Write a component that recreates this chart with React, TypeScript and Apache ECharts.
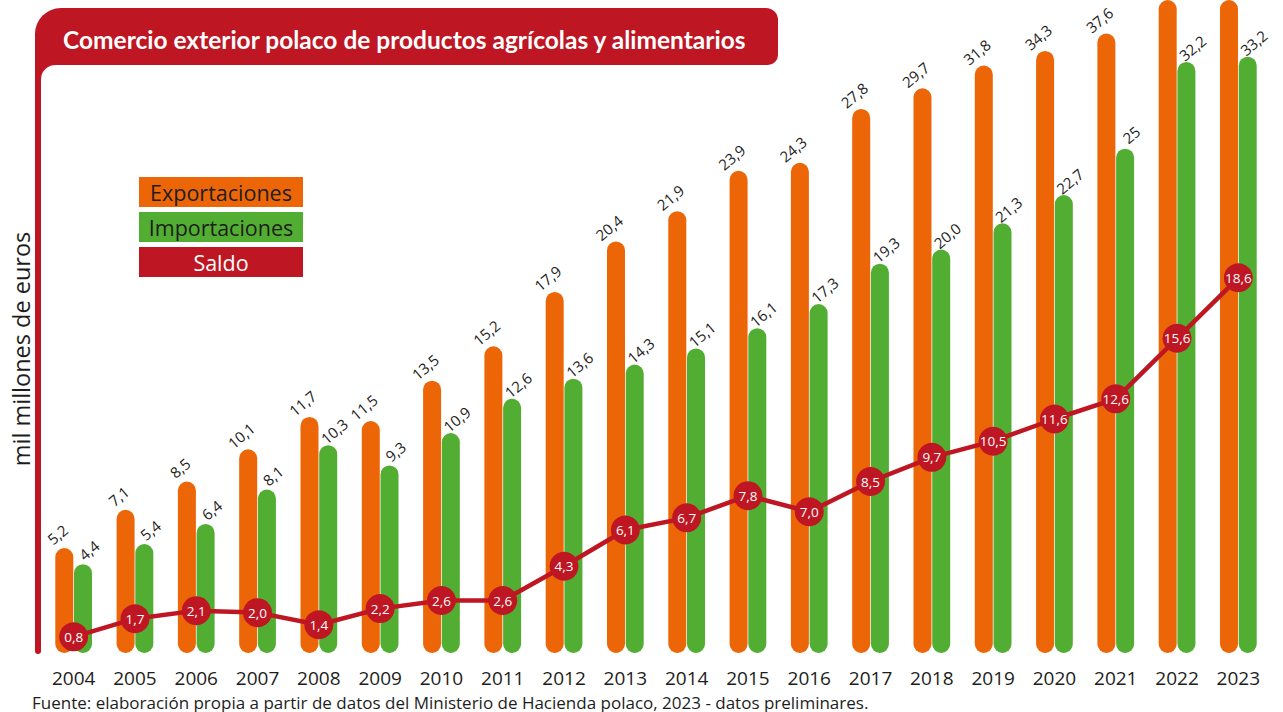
import React, { useEffect, useRef } from "react";
import * as echarts from "echarts";

const years = ["2004","2005","2006","2007","2008","2009","2010","2011","2012","2013","2014","2015","2016","2017","2018","2019","2020","2021","2022","2023"];
const exportsData = [5.2, 7.1, 8.5, 10.1, 11.7, 11.5, 13.5, 15.2, 17.9, 20.4, 21.9, 23.9, 24.3, 27.8, 29.7, 31.8, 34.3, 37.6, 47.8, 51.8];
const importsData = [4.4, 5.4, 6.4, 8.1, 10.3, 9.3, 10.9, 12.6, 13.6, 14.3, 15.1, 16.1, 17.3, 19.3, 20.0, 21.3, 22.7, 25, 32.2, 33.2];
const saldoData = [0.8, 1.7, 2.1, 2.0, 1.4, 2.2, 2.6, 2.6, 4.3, 6.1, 6.7, 7.8, 7.0, 8.5, 9.7, 10.5, 11.6, 12.6, 15.6, 18.6];
const hiddenExportLabels = ["2022", "2023"];

const TITLE = "Comercio exterior polaco de productos agrícolas y alimentarios";
const Y_NAME = "mil millones de euros";
const SOURCE = "Fuente: elaboración propia a partir de datos del Ministerio de Hacienda polaco, 2023 - datos preliminares.";
const LEGEND = ["Exportaciones", "Importaciones", "Saldo"];

const ORANGE = "#EC6608";
const GREEN = "#52AE32";
const RED = "#BE1622";
const DARK = "#1d1d1b";
const FONT = "'Open Sans', sans-serif";

const fmt = (v: number) => Number(v).toFixed(1).replace(".", ",");

export default function App() {
  const ref = useRef<HTMLDivElement>(null);
  useEffect(() => {
    if (!ref.current) return;
    const chart = echarts.init(ref.current, null, { renderer: "svg" });
    const barLabel = {
      show: true,
      position: "top",
      distance: 0,
      rotate: 40,
      align: "center",
      verticalAlign: "middle",
      fontSize: 15,
      fontFamily: FONT,
      color: DARK,
      formatter: (p: any) => fmt(p.value),
    };
    const legendColors = [ORANGE, GREEN, RED];
    const legendTextColors = [DARK, DARK, "#ffffff"];
    const graphic: any[] = [
      { type: "rect", shape: { x: 35, y: 8, width: 743, height: 57, r: [26, 12, 10, 0] }, style: { fill: RED }, silent: true },
      { type: "rect", shape: { x: 35, y: 40, width: 6, height: 614, r: 3 }, style: { fill: RED }, silent: true },
      { type: "rect", shape: { x: 40, y: 64, width: 16, height: 16 }, style: { fill: RED }, silent: true },
      { type: "circle", shape: { cx: 55, cy: 79, r: 14 }, style: { fill: "#ffffff" }, silent: true },
      { type: "text", x: 63, y: 39, style: { text: TITLE, fill: "#ffffff", font: `bold 24.5px Lato, sans-serif`, verticalAlign: "middle" }, silent: true },
      { type: "text", x: 21, y: 349, rotation: Math.PI / 2, style: { text: Y_NAME, fill: DARK, font: `23.5px ${FONT}`, align: "center", verticalAlign: "middle" }, silent: true },
      { type: "text", x: 32, y: 702, style: { text: SOURCE, fill: DARK, font: `17px ${FONT}`, lineHeight: 17, verticalAlign: "middle" }, silent: true },
    ];
    LEGEND.forEach((name, i) => {
      const y = 177 + i * 35;
      graphic.push({ type: "rect", shape: { x: 139, y, width: 164, height: 30 }, style: { fill: legendColors[i] }, silent: true });
      graphic.push({ type: "text", x: 221, y: y + 15, style: { text: name, fill: legendTextColors[i], font: `21.5px ${FONT}`, align: "center", verticalAlign: "middle" }, silent: true });
    });

    chart.setOption({
      animation: false,
      grid: { left: 43, right: 14, top: 0, bottom: 59, containLabel: false },
      xAxis: {
        type: "category",
        data: years,
        axisLine: { show: false },
        axisTick: { show: false },
        axisLabel: { fontSize: 19, lineHeight: 19, color: DARK, fontFamily: FONT, margin: 15, interval: 0 },
      },
      yAxis: {
        type: "value",
        min: 0,
        max: 44,
        show: false,
        splitLine: { show: false },
        breaks: [
          { start: 26, end: 31.8, gap: 3.12 },
          { start: 31.9, end: 44, gap: 3.15 },
        ],
        breakArea: { show: false, itemStyle: { opacity: 0, borderWidth: 0 }, zigzagAmplitude: 0 },
      },
      graphic,
      series: [
        {
          type: "bar",
          name: LEGEND[0],
          barWidth: 18,
          data: exportsData.map((v, i) =>
            hiddenExportLabels.includes(years[i]) ? { value: v, label: { show: false } } : v
          ),
          itemStyle: { color: ORANGE, borderRadius: 9 },
          label: { ...barLabel, offset: [3.5, -15] },
          z: 2,
        },
        {
          type: "bar",
          name: LEGEND[1],
          barWidth: 18,
          barGap: "4%",
          data: importsData.map((v) => (v === 25 ? { value: v, label: { formatter: "25" } } : v)),
          itemStyle: { color: GREEN, borderRadius: 9 },
          label: { ...barLabel, offset: [13.6, -6.9] },
          z: 2,
        },
        {
          type: "line",
          name: LEGEND[2],
          data: saldoData,
          symbol: "circle",
          symbolSize: 29,
          lineStyle: { color: RED, width: 4.5 },
          itemStyle: { color: RED },
          label: {
            show: true,
            position: "inside",
            color: "#ffffff",
            fontSize: 13.5,
            fontFamily: FONT,
            fontWeight: 500,
            formatter: (p: any) => fmt(p.value),
          },
          z: 5,
        },
      ],
    });
    return () => chart.dispose();
  }, []);
  return <div ref={ref} style={{ position: "absolute", left: 0, top: 0, width: 1283, height: 712 }} />;
}
